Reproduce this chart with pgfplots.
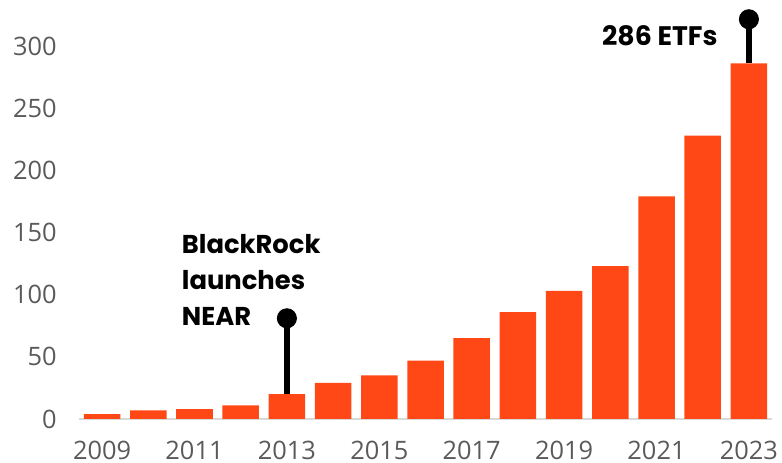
\documentclass[border=0pt]{standalone}
\usepackage{fontspec}
\setmainfont{Open Sans}
\newfontfamily\annfont{Poppins}
\usepackage{pgfplots}
\pgfplotsset{compat=1.18}
\definecolor{barorange}{HTML}{FF4816}
\definecolor{ticktext}{HTML}{5A5A5A}
\definecolor{baselinegrey}{HTML}{D9D9D9}
\begin{document}
\begin{tikzpicture}
\begin{axis}[
  scale only axis, width=346.5pt, height=209.5pt,
  xmin=-0.5, xmax=14.5, ymin=0, ymax=337,
  axis line style={draw=none},
  ytick={0,50,...,300},
  xtick={0,2,...,14},
  xticklabels={2009,2011,2013,2015,2017,2019,2021,2023},
  major tick length=0pt,
  tick label style={font=\fontsize{12.7}{15}\selectfont, text=ticktext, inner sep=0pt},
  /pgf/number format/assume math mode=true,
  yticklabel style={anchor=east, xshift=-11pt},
  xticklabel style={anchor=north, yshift=-11pt},
  clip=false,
]
\coordinate (bl) at (rel axis cs:0,0);
\coordinate (tr) at (rel axis cs:1,1);
\draw[baselinegrey, line width=1pt] (rel axis cs:0,0) -- (rel axis cs:1,0);
\addplot[ybar, bar width=18.25pt, fill=barorange, draw=none] coordinates {
  (0,4) (1,7) (2,8) (3,11) (4,20) (5,29) (6,35) (7,47) (8,65) (9,86)
  (10,103) (11,123) (12,179) (13,228) (14,286)};
\addplot[black, line width=2.8pt, mark=*, mark indices={2}, mark size=4.8pt, mark options={solid, line width=0.4pt}] coordinates {(4,20) (4,81)};
\addplot[black, line width=2.8pt, mark=*, mark indices={2}, mark size=4.8pt, mark options={solid, line width=0.4pt}] coordinates {(14,286) (14,321.5)};
\node[anchor=north west, align=left, inner sep=0pt, font=\annfont\bfseries\fontsize{12.9}{18}\selectfont] at (axis cs:1.72,148.7) {BlackRock\\launches\\NEAR};
\node[anchor=base east, inner sep=0pt, font=\annfont\bfseries\fontsize{13.4}{18}\selectfont] at (axis cs:13.33,300.6) {286 ETFs};
\end{axis}
\pgfresetboundingbox
\path[use as bounding box] ([xshift=-39.5pt,yshift=-22pt]bl) rectangle ([xshift=5pt]tr);
\end{tikzpicture}
\end{document}
